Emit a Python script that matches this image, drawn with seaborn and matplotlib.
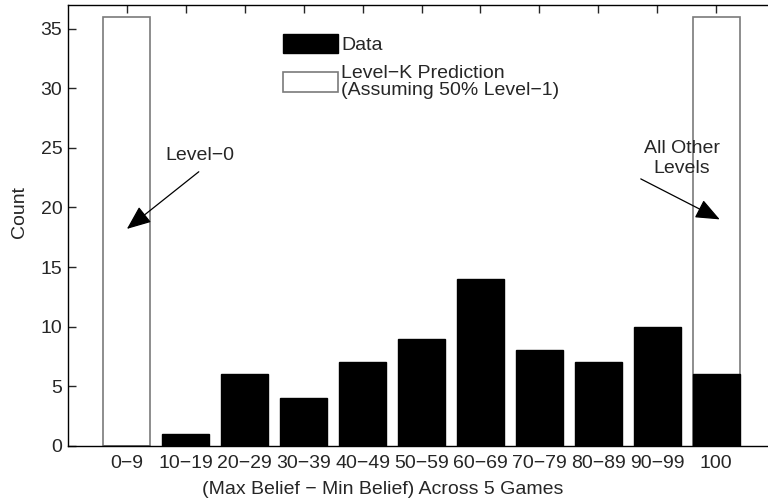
import numpy as np
import pandas as pd
import seaborn as sns
import matplotlib.pyplot as plt

# data
bins = ['0\u22129', '10\u221219', '20\u221229', '30\u221239', '40\u221249', '50\u221259',
        '60\u221269', '70\u221279', '80\u221289', '90\u221299', '100']
data_counts = [0, 1, 6, 4, 7, 9, 14, 8, 7, 10, 6]
levelk_counts = [36, 0, 0, 0, 0, 0, 0, 0, 0, 0, 36]

df = pd.DataFrame({'bin': bins, 'Data': data_counts, 'LevelK': levelk_counts})

sns.set_style('ticks')
plt.rcParams['font.family'] = ['Liberation Sans', 'DejaVu Sans']
fs = 14

fig = plt.figure(figsize=(7.68, 5), dpi=100)
# axes runs past the right edge of the figure, like the cropped original
ax = fig.add_axes([0.0885, 0.1086, 0.9208, 0.8814])

sns.barplot(data=df, x='bin', y='LevelK', color='white', edgecolor='#7a7a7a',
            linewidth=1.2, width=0.8, saturation=1, ax=ax,
            label='Level\u2212K Prediction\n(Assuming 50% Level\u22121)')
sns.barplot(data=df, x='bin', y='Data', color='black', edgecolor='black',
            linewidth=1, width=0.8, saturation=1, ax=ax, label='Data')

ax.set_xlim(-1, 11)
ax.set_ylim(0, 37)
ax.set_yticks(np.arange(0, 40, 5))
ax.set_xlabel('(Max Belief \u2212 Min Belief) Across 5 Games', fontsize=fs)
ax.set_ylabel('Count', fontsize=fs)
ax.xaxis.set_label_coords(0.445, -0.08)
ax.yaxis.set_label_coords(-0.057, 0.53)
ax.tick_params(direction='in', length=6, width=1, labelsize=fs,
               top=True, right=False, pad=4)
ax.tick_params(axis='x', pad=7)
for s in ax.spines.values():
    s.set_linewidth(1)
    s.set_color('black')

h, l = ax.get_legend_handles_labels()
leg = ax.legend(h[::-1], l[::-1], loc='upper left', bbox_to_anchor=(0.356, 0.952),
                bbox_transform=fig.transFigure, frameon=False, fontsize=fs,
                handlelength=2.8, handleheight=1.15, handletextpad=0.2,
                labelspacing=0.55, borderpad=0)
for t in leg.get_texts():
    t.set_linespacing(1.05)

arrow = dict(arrowstyle='-|>,head_length=0.68,head_width=0.28', color='black',
             lw=0.9, mutation_scale=22, shrinkA=0, shrinkB=0)
ax.text(1.23, 24.4, 'Level\u22120', ha='center', va='center', fontsize=fs)
ax.annotate('', xy=(0, 18.2), xytext=(1.22, 23.0), arrowprops=arrow)
ax.text(9.42, 24.1, 'All Other\nLevels', ha='center', va='center', fontsize=fs,
        linespacing=1.25)
ax.annotate('', xy=(10.06, 19.0), xytext=(8.72, 22.4), arrowprops=arrow)

fig.savefig('out.png', dpi=100)
